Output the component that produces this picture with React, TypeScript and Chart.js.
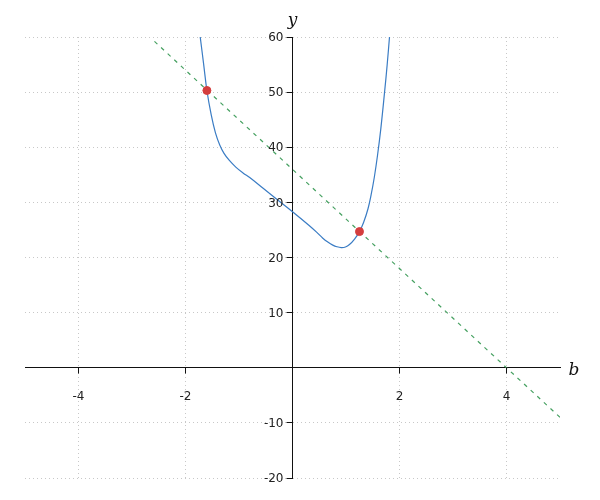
import React, { useEffect, useRef } from "react";
import { Chart, registerables } from "chart.js";

Chart.register(...registerables);

// Blue curve samples
const curveX = [-1.725, -1.66, -1.6, -1.52, -1.44, -1.36, -1.28, -1.18, -1.06, -0.92, -0.8, -0.555, -0.3, 0, 0.3, 0.45, 0.567, 0.66, 0.753, 0.83, 0.91, 0.99, 1.065, 1.16, 1.252, 1.33, 1.41, 1.47, 1.53, 1.59, 1.65, 1.72, 1.77, 1.813];
const curveY = [60, 55.0, 50.3, 45.9, 42.6, 40.4, 38.9, 37.6, 36.4, 35.3, 34.5, 32.6, 30.6, 28.3, 25.9, 24.6, 23.5, 22.8, 22.25, 21.95, 21.8, 21.9, 22.35, 23.35, 24.7, 26.4, 28.8, 31.4, 34.6, 38.6, 43.3, 49.9, 55.0, 60];

// Green dashed secant line endpoints
const lineX = [-2.58, 5];
const lineY = [59.2, -9];

// Red intersection points
const pointX = [-1.6, 1.252];
const pointY = [50.3, 24.7];

// Axis ticks
const xTicks = [-4, -2, 0, 2, 4];
const yMin = -20;
const yMax = 60;
const yStep = 10;
const xMin = -5;
const xMax = 5;

const xTitle = "b";
const yTitle = "y";

const zip = (xs: number[], ys: number[]) => xs.map((x, i) => ({ x, y: ys[i] }));
const align = (p: number) => Math.round(p - 0.5) + 0.5;

const axisDecor = {
  id: "axisDecor",
  afterDraw(chart: any) {
    const { ctx, scales } = chart;
    const xs = scales.x;
    const ys = scales.y;
    const x0 = align(xs.getPixelForValue(0));
    const y0 = align(ys.getPixelForValue(0));
    ctx.save();
    ctx.setLineDash([]);
    // tick marks
    ctx.strokeStyle = "#111";
    ctx.lineWidth = 1;
    ctx.beginPath();
    xs.ticks.forEach((t: any) => {
      const px = align(xs.getPixelForValue(t.value));
      ctx.moveTo(px, y0);
      ctx.lineTo(px, y0 + 6);
    });
    ys.ticks.forEach((t: any) => {
      const py = align(ys.getPixelForValue(t.value));
      ctx.moveTo(x0, py);
      ctx.lineTo(x0 - 6, py);
    });
    ctx.stroke();
    // y tick labels
    ctx.fillStyle = "#222";
    ctx.font = "12px 'DejaVu Sans'";
    ctx.textAlign = "right";
    ctx.textBaseline = "middle";
    ys.ticks.forEach((t: any) => {
      if (t.value === 0) return;
      ctx.fillText(String(t.value), x0 - 9, ys.getPixelForValue(t.value) + 1);
    });
    // axis titles
    ctx.fillStyle = "#111";
    ctx.font = "italic 17px 'DejaVu Serif'";
    ctx.textAlign = "center";
    ctx.textBaseline = "alphabetic";
    ctx.fillText(xTitle, xs.right + 14, y0 + 7);
    ctx.fillText(yTitle, x0, ys.top - 12);
    ctx.restore();
  },
};

export default function App() {
  const ref = useRef<HTMLCanvasElement | null>(null);
  useEffect(() => {
    if (!ref.current) return;
    const chart = new Chart(ref.current, {
      type: "scatter",
      data: {
        datasets: [
          {
            data: zip(pointX, pointY),
            backgroundColor: "#d43d3d",
            borderColor: "#d43d3d",
            pointRadius: 4,
            showLine: false,
          },
          {
            data: zip(curveX, curveY),
            borderColor: "#3a7cc4",
            borderWidth: 1.2,
            pointRadius: 0,
            showLine: true,
            tension: 0.4,
          },
          {
            data: zip(lineX, lineY),
            borderColor: "#45a060",
            borderWidth: 1.2,
            borderDash: [4, 5],
            pointRadius: 0,
            showLine: true,
          },
        ],
      },
      options: {
        animation: false,
        responsive: false,
        layout: { padding: { left: 25, right: 40, top: 37, bottom: 22 } },
        plugins: { legend: { display: false }, tooltip: { enabled: false } },
        scales: {
          x: {
            type: "linear",
            min: xMin,
            max: xMax,
            position: { y: 0 } as any,
            afterBuildTicks: (s: any) => {
              s.ticks = xTicks.map((v) => ({ value: v }));
            },
            grid: {
              color: "#c8c8c8",
              lineWidth: 1,
              drawTicks: false,
            },
            border: { display: true, color: "#111", width: 1, dash: [1, 3] },
            ticks: {
              color: "#222",
              font: { family: "'DejaVu Sans'", size: 12 },
              padding: 22,
              maxRotation: 0,
              callback: (v: any) => (Number(v) === 0 ? "" : String(v)),
            },
          },
          y: {
            type: "linear",
            min: yMin,
            max: yMax,
            position: { x: 0 } as any,
            grid: {
              color: "#c8c8c8",
              lineWidth: 1,
              drawTicks: false,
            },
            border: { display: true, color: "#111", width: 1, dash: [1, 3] },
            ticks: {
              stepSize: yStep,
              display: false,
            },
          },
        },
      },
      plugins: [axisDecor],
    });
    return () => chart.destroy();
  }, []);
  return (
    <div style={{ position: "fixed", left: 0, top: 0, width: 600, height: 500, background: "#fff" }}>
      <canvas ref={ref} width={600} height={500} />
    </div>
  );
}
